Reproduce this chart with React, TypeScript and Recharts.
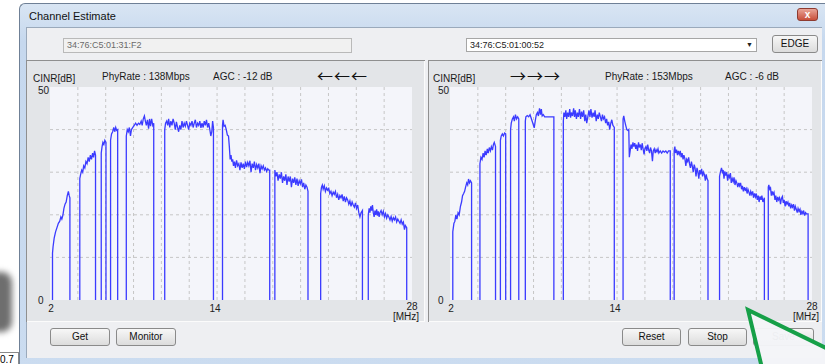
import { LineChart, Line, XAxis, YAxis, CartesianGrid } from "recharts";

// axis / grid values
const freqTicks = [2, 14, 28];
const gridFreqs = [4, 6, 8, 10, 12, 14, 16, 18, 20, 22, 24, 26];
const cinrTicks = [0, 50];
const gridCinr = [10, 20, 30, 40];

// header texts
const leftMac = "34:76:C5:01:31:F2";
const rightMac = "34:76:C5:01:00:52";
const leftPhy = "PhyRate : 138Mbps";
const rightPhy = "PhyRate : 153Mbps";
const leftAgc = "AGC : -12 dB";
const rightAgc = "AGC : -6 dB";

// CINR [dB] per carrier band, [MHz, dB]; bands are separated by notches (drop to 0)
const leftCinr: [number, number][][] = [
  [[2.18, 11], [2.22, 12.5], [2.3, 14.5], [2.4, 16], [2.5, 17], [2.6, 18], [2.7, 18.5], [2.78, 19.5], [2.85, 19], [2.93, 20], [3.0, 21.5], [3.08, 22.5], [3.16, 23], [3.24, 24.5], [3.32, 25.5], [3.38, 24.5], [3.43, 24]],
  [[4.14, 28.5], [4.2, 29.5], [4.28, 30.5], [4.35, 30], [4.42, 31.5], [4.5, 31], [4.58, 32.5], [4.66, 32], [4.74, 33.5], [4.82, 32.5], [4.9, 34], [4.98, 33], [5.06, 34.5], [5.13, 33.5], [5.2, 35], [5.27, 34]],
  [[5.68, 34.5], [5.74, 36], [5.8, 37], [5.87, 36.5], [5.94, 37.5], [6.02, 37]],
  [[6.35, 37.5], [6.42, 39], [6.5, 39.5], [6.58, 40.5], [6.65, 39.5], [6.72, 40.5], [6.79, 39.8], [6.86, 40]],
  [[7.48, 38.5], [7.55, 40], [7.62, 39.5], [7.7, 40.5], [7.78, 38.5], [7.85, 40], [7.95, 40.5], [8.05, 41], [8.15, 41.5], [8.25, 41], [8.35, 41.5], [8.45, 41.2], [8.55, 42], [8.62, 41], [8.7, 42.5], [8.78, 43.2], [8.85, 42], [8.92, 41], [9.0, 42.3], [9.08, 40.2], [9.15, 42.5], [9.22, 40.8], [9.3, 42.5], [9.38, 41], [9.45, 41.5]],
  [[10.24, 40], [10.3, 41.5], [10.38, 42], [10.45, 41], [10.52, 42.5], [10.6, 40.5], [10.68, 42], [10.76, 41], [10.84, 42.5], [10.92, 41.5], [11.0, 40], [11.08, 41.8], [11.16, 40.5], [11.24, 39.5], [11.32, 41], [11.4, 40], [11.48, 42], [11.56, 40.5], [11.64, 41.5], [11.72, 40.8], [11.8, 42], [11.88, 41], [11.96, 40], [12.04, 41.5], [12.12, 41], [12.2, 42], [12.28, 40.5], [12.36, 41.5], [12.44, 42.3], [12.52, 40.5], [12.6, 41.5], [12.68, 41], [12.76, 42], [12.84, 40.4], [12.92, 41.5], [13.0, 40.5], [13.08, 42], [13.16, 41], [13.24, 42.3], [13.32, 40.5], [13.4, 41.5], [13.48, 40], [13.55, 38.5], [13.62, 39.5], [13.68, 42], [13.74, 40.5]],
  [[14.39, 41], [14.43, 42.3], [14.5, 40.8], [14.58, 41], [14.66, 40], [14.74, 38.7], [14.82, 38.5], [14.88, 36], [14.94, 33], [15.0, 34], [15.06, 32.5], [15.12, 33], [15.18, 31.5], [15.25, 32.5], [15.32, 31], [15.4, 32.8], [15.48, 31.5], [15.56, 32], [15.64, 30.5], [15.72, 32.3], [15.8, 31], [15.88, 32], [15.96, 30.8], [16.04, 32.5], [16.12, 31.2], [16.2, 32.3], [16.28, 31.5], [16.36, 32.7], [16.44, 30], [16.52, 32], [16.6, 31], [16.68, 32.5], [16.76, 30.5], [16.84, 31.8], [16.92, 31], [17.0, 32], [17.08, 29.8], [17.16, 31.5], [17.24, 30.8], [17.32, 31.5], [17.4, 30.5], [17.48, 31], [17.56, 30.2], [17.64, 30.8], [17.72, 30.5], [17.78, 30.5]],
  [[18.15, 30.5], [18.22, 29], [18.3, 30], [18.38, 28], [18.46, 29.5], [18.54, 28.5], [18.62, 30], [18.7, 27.5], [18.78, 29], [18.86, 28], [18.94, 29.5], [19.02, 27], [19.1, 29], [19.18, 27.8], [19.26, 29], [19.34, 26.5], [19.42, 28.5], [19.5, 27.5], [19.58, 28.8], [19.66, 27], [19.74, 28.5], [19.82, 26.8], [19.9, 28], [19.98, 27.3], [20.06, 28.3], [20.14, 26.5], [20.22, 27.5], [20.3, 26], [20.38, 27], [20.46, 26.5], [20.53, 25.5]],
  [[21.44, 25], [21.5, 26.5], [21.56, 27], [21.62, 26], [21.7, 26.8], [21.78, 25.5], [21.86, 26.3], [21.94, 25.8], [22.02, 26.2], [22.1, 25], [22.18, 25.5], [22.26, 24.5], [22.34, 25.3], [22.42, 24.8], [22.5, 25.5], [22.58, 24], [22.66, 24.8], [22.74, 23.5], [22.82, 24.5], [22.9, 24], [22.98, 24.8], [23.06, 23.2], [23.14, 24.3], [23.22, 23], [23.3, 24], [23.38, 23.5], [23.46, 22.5], [23.54, 23.3], [23.62, 22], [23.7, 23], [23.78, 22.3], [23.86, 21.8], [23.94, 22.8], [24.02, 21.5], [24.1, 22.3], [24.18, 20.5], [24.26, 19.5], [24.34, 20.5], [24.44, 21]],
  [[24.86, 20], [24.92, 21.5], [24.98, 20.5], [25.04, 22], [25.1, 21], [25.16, 22.3], [25.22, 20.5], [25.28, 19.5], [25.34, 21], [25.4, 20], [25.46, 21.3], [25.52, 19.8], [25.58, 20.8], [25.64, 19.5], [25.7, 20.5], [25.78, 21], [25.86, 20], [25.94, 20.8], [26.02, 19.5], [26.1, 20.3], [26.18, 19.2], [26.26, 20], [26.34, 19.5], [26.42, 18.8], [26.5, 19.6], [26.58, 18.5], [26.66, 19.3], [26.74, 18.8], [26.82, 19.5], [26.9, 18.3], [26.98, 19], [27.06, 18.5], [27.14, 18], [27.22, 18.8], [27.3, 17.8], [27.38, 18.3], [27.46, 16.5], [27.52, 17.5], [27.62, 17]],
];

const rightCinr: [number, number][][] = [
  [[2.2, 16], [2.28, 18], [2.35, 18.5], [2.42, 20], [2.5, 19], [2.58, 20.5], [2.66, 20], [2.75, 22], [2.83, 23], [2.9, 24.5], [2.98, 25], [3.05, 25.5], [3.12, 26.5], [3.2, 27.5], [3.27, 27], [3.33, 28.4], [3.4, 27.5], [3.47, 28], [3.55, 27.5]],
  [[4.15, 32], [4.22, 33.5], [4.3, 33], [4.38, 34.5], [4.45, 33.5], [4.52, 35], [4.6, 34], [4.68, 35.5], [4.75, 34.5], [4.82, 35.8], [4.9, 35], [4.97, 36], [5.05, 35.2], [5.12, 36.5], [5.18, 37], [5.27, 36]],
  [[5.62, 37.5], [5.68, 38.5], [5.76, 39], [5.84, 38.5], [5.92, 39.2], [6.0, 39]],
  [[6.35, 40], [6.4, 41.5], [6.48, 42.5], [6.56, 43], [6.62, 42], [6.7, 43.5], [6.78, 42.5], [6.86, 43], [6.94, 42.5]],
  [[7.41, 42], [7.45, 43], [7.55, 43.3], [7.65, 43], [7.75, 43.5], [7.85, 42.5], [7.95, 41.5], [8.05, 40.4], [8.12, 42], [8.2, 43.5], [8.28, 44], [8.35, 43.2], [8.43, 45], [8.5, 43.5], [8.56, 44.8], [8.62, 43.2], [8.7, 43.5], [8.8, 43], [9.0, 43], [9.2, 43], [9.46, 43]],
  [[10.14, 42], [10.18, 44], [10.25, 43], [10.32, 44.5], [10.38, 42.5], [10.45, 44], [10.52, 43], [10.6, 44.8], [10.66, 42.8], [10.72, 44], [10.8, 43.2], [10.88, 45], [10.94, 43], [11.0, 44.5], [11.08, 42.5], [11.15, 44], [11.22, 43], [11.3, 44.8], [11.38, 42.5], [11.45, 44.2], [11.52, 43], [11.6, 44.5], [11.68, 42], [11.75, 43.5], [11.82, 41.5], [11.9, 43], [11.98, 44.5], [12.05, 43], [12.12, 44.8], [12.2, 42.8], [12.28, 44], [12.35, 43], [12.42, 44.5], [12.5, 42], [12.58, 43.5], [12.65, 42.5], [12.72, 44], [12.8, 43], [12.88, 42], [12.95, 43.5], [13.02, 42.5], [13.1, 43], [13.18, 41.5], [13.25, 42.5], [13.32, 41], [13.4, 41.8], [13.47, 40], [13.55, 41.5], [13.62, 42.3], [13.7, 41], [13.8, 40.5]],
  [[14.43, 42.5], [14.48, 43.2], [14.55, 42], [14.62, 41], [14.7, 40], [14.78, 39.8], [14.84, 40], [14.88, 33.5], [14.94, 35], [15.0, 36.5], [15.07, 35.5], [15.14, 37], [15.2, 36], [15.27, 36.8], [15.34, 35.5], [15.4, 36.5], [15.47, 35], [15.54, 37], [15.6, 35.8], [15.67, 36.5], [15.74, 35.2], [15.8, 36.8], [15.87, 35.5], [15.94, 34.2], [16.0, 35.5], [16.07, 36], [16.14, 35], [16.2, 36.5], [16.27, 35.2], [16.34, 34.5], [16.4, 35.8], [16.47, 35], [16.54, 32.6], [16.6, 35], [16.67, 35.5], [16.74, 34.5], [16.8, 35.3], [16.87, 34.8], [16.94, 35.5], [17.0, 34.5], [17.1, 35], [17.2, 34.5], [17.3, 35], [17.4, 34.7], [17.5, 35], [17.6, 34.5], [17.7, 35], [17.82, 35]],
  [[18.1, 35], [18.15, 36], [18.2, 34.5], [18.27, 35.3], [18.34, 34], [18.4, 35], [18.47, 34.2], [18.54, 35], [18.6, 33.5], [18.67, 34.5], [18.74, 33], [18.8, 34], [18.87, 33.2], [18.94, 31.5], [19.0, 33], [19.07, 32.5], [19.14, 33.5], [19.2, 32], [19.27, 31], [19.34, 32.5], [19.4, 31.5], [19.47, 30], [19.54, 31.8], [19.6, 31], [19.67, 29], [19.74, 31], [19.8, 30.2], [19.87, 28.5], [19.94, 30.5], [20.0, 29.5], [20.07, 30.8], [20.14, 29], [20.2, 30], [20.27, 29.5], [20.34, 28], [20.4, 29.5], [20.46, 28.5], [20.53, 28]],
  [[21.36, 29], [21.42, 30], [21.5, 31], [21.56, 30], [21.62, 30.5], [21.68, 28.5], [21.74, 30.2], [21.8, 29.2], [21.87, 30], [21.94, 28], [22.0, 29.5], [22.07, 28.8], [22.14, 29.8], [22.2, 27.5], [22.27, 28.5], [22.34, 27.8], [22.4, 28.8], [22.47, 27], [22.54, 28], [22.6, 27.5], [22.67, 26.5], [22.74, 27.5], [22.8, 26.8], [22.87, 27.5], [22.94, 26], [23.0, 26.8], [23.07, 25.5], [23.14, 26.5], [23.2, 25.8], [23.27, 26.2], [23.34, 25], [23.4, 26], [23.47, 25.3], [23.54, 24.5], [23.6, 25.5], [23.67, 24.8], [23.74, 25.5], [23.8, 24], [23.87, 25], [23.94, 24.2], [24.0, 25], [24.07, 23.5], [24.14, 24.5], [24.2, 23], [24.27, 24.3], [24.34, 23.5], [24.4, 24.5], [24.47, 23], [24.58, 24]],
  [[24.86, 26.5], [24.9, 27], [24.96, 26], [25.02, 26.3], [25.08, 24.5], [25.14, 25.5], [25.2, 24.8], [25.27, 25.3], [25.34, 23.5], [25.4, 24.5], [25.47, 23], [25.54, 24.2], [25.6, 23.5], [25.67, 24], [25.74, 22.5], [25.8, 23.8], [25.87, 24.3], [25.94, 22.8], [26.0, 23.5], [26.07, 22], [26.14, 23.2], [26.2, 22.5], [26.27, 23], [26.34, 22], [26.4, 22.8], [26.47, 21.5], [26.54, 22.3], [26.6, 21.8], [26.67, 22.5], [26.74, 21], [26.8, 22], [26.87, 21.3], [26.94, 20.5], [27.0, 21.5], [27.07, 20.8], [27.14, 21.3], [27.2, 20], [27.27, 20.8], [27.34, 20.3], [27.4, 21], [27.47, 19.8], [27.54, 20.5], [27.6, 20.2], [27.72, 20.2]],
];

// each band rises from 0 and drops back to 0; a null breaks the line across the notch
function toSeries(bands: [number, number][][]) {
  const out: { f: number; v: number | null }[] = [];
  bands.forEach((band) => {
    const first = band[0][0];
    const last = band[band.length - 1][0];
    out.push({ f: first, v: 0 });
    band.forEach(([f, v]) => out.push({ f, v }));
    out.push({ f: last, v: 0 });
    out.push({ f: last, v: null });
  });
  return out;
}

const UI_FONT = "'Liberation Sans', Arial, sans-serif";

const yTick = (p: any) => {
  const v = p.payload.value;
  return (
    <text x={p.x - 12} y={p.y + (v === 50 ? 3 : 0)} textAnchor="start" dominantBaseline="central" fontSize={10} fontFamily={UI_FONT} fill="#222">
      {v}
    </text>
  );
};

const xTick = (p: any) => {
  const v = p.payload.value;
  const dx = v === 14 ? -2 : v === 2 ? 1 : 0;
  return (
    <text x={p.x + dx} y={p.y + (v === 28 ? 6 : 8)} textAnchor="middle" dominantBaseline="central" fontSize={10} fontFamily={UI_FONT} fill="#222">
      {v}
    </text>
  );
};

function CinrChart({ bands, width, axisW }: { bands: [number, number][][]; width: number; axisW: number }) {
  const data = toSeries(bands);
  return (
    <LineChart width={width} height={262} data={data} margin={{ top: 27, right: width - axisW - 362, left: 0, bottom: 0 }}>
      <CartesianGrid fill="#f4f5fa" stroke="#c6c6c6" strokeDasharray="3 3" horizontalValues={gridCinr} verticalValues={gridFreqs} />
      <XAxis type="number" dataKey="f" domain={[2, 28]} ticks={freqTicks} interval={0} height={22} tickSize={0} tickMargin={0} axisLine={false} tickLine={false} tick={xTick} />
      <YAxis type="number" domain={[0, 50]} ticks={cinrTicks} interval={0} width={axisW} tickSize={0} tickMargin={0} axisLine={false} tickLine={false} tick={yTick} />
      <Line dataKey="v" type="linear" stroke="#3b3bff" strokeWidth={1.3} dot={false} connectNulls={false} isAnimationActive={false} />
    </LineChart>
  );
}

const abs = (left: number, top: number, extra: any = {}) => ({ position: "absolute" as const, left, top, ...extra });

const txt = (left: number, top: number, size = 10) => abs(left, top, { fontSize: size, lineHeight: `${size}px`, whiteSpace: "nowrap", color: "#1a1a1a" });

function Button({ x, y, w, label }: { x: number; y: number; w: number; label: string }) {
  return (
    <div
      style={abs(x, y, {
        width: w,
        height: 18,
        boxSizing: "border-box",
        border: "1px solid #8a8a8a",
        borderRadius: 3,
        background: "linear-gradient(#f7f7f7, #dcdcdc)",
        fontSize: 10,
        lineHeight: "16px",
        textAlign: "center",
        color: "#111",
      })}
    >
      {label}
    </div>
  );
}

function Panel({ x, w, bands, axisW, items, arrows, arrowX }: any) {
  return (
    <div style={abs(x, 60, { width: w, height: 262, background: "#e3e5e8", boxShadow: "inset 1px 1px 0 #8f8f8f, inset -1px -1px 0 #fbfbfb" })}>
      <div style={abs(0, 0)}>
        <CinrChart bands={bands} width={w} axisW={axisW} />
      </div>
      {items.map((it: any) => (
        <div key={it.t} style={txt(it.x, it.y)}>
          {it.t}
        </div>
      ))}
      <div style={abs(arrowX, 7, { fontFamily: "'Noto Sans CJK JP', 'DejaVu Sans', sans-serif", fontSize: 16, lineHeight: "16px", letterSpacing: 1, color: "#111" })}>{arrows}</div>
      <div style={txt(w === 399 ? 367 : 365, 252)}>[MHz]</div>
    </div>
  );
}

export default function App() {
  return (
    <div style={{ position: "absolute", left: 0, top: 0, width: 825, height: 364, overflow: "hidden", background: "#ffffff", fontFamily: UI_FONT }}>
      {/* background app remnants */}
      <div style={abs(-12, 272, { width: 24, height: 60, borderRadius: 10, background: "#6e6e6e", filter: "blur(3px)" })} />
      <div style={abs(-2, 352, { width: 18, height: 14, borderTop: "1px solid #8a8a8a", borderRight: "1px solid #8a8a8a", fontSize: 10, lineHeight: "14px", paddingLeft: 2 })}>0.7</div>

      {/* window frame */}
      <div style={abs(19, 3, { width: 830, height: 380, background: "linear-gradient(#d9e5f3, #c6d8ee 10%, #cbdcf0)", borderLeft: "1px solid #6f8096", borderTop: "1px solid #6f8096", borderTopLeftRadius: 6 })} />
      <div style={abs(29, 10, { fontSize: 11, lineHeight: "12px", color: "#111" })}>Channel Estimate</div>
      <div style={abs(797, 8, { width: 21, height: 13, boxSizing: "border-box", border: "1px solid #8e3b30", borderRadius: 3, background: "linear-gradient(#e9a497, #c84f3b)", color: "#fff", fontSize: 10, lineHeight: "11px", textAlign: "center", fontWeight: 700 })}>x</div>

      {/* client area */}
      <div style={abs(26, 27, { width: 796, height: 331, background: "#eeeff2", boxShadow: "inset 1px 1px 0 #9aa9bb" })} />

      <div style={abs(63, 38, { width: 289, height: 15, boxSizing: "border-box", border: "1px solid #b9b9b9", background: "#f1f1f1", color: "#6a6a6a", fontSize: 9, lineHeight: "13px", paddingLeft: 3 })}>{leftMac}</div>
      <div style={abs(466, 38, { width: 291, height: 14, boxSizing: "border-box", border: "1px solid #a6a6a6", background: "#ffffff", color: "#222", fontSize: 9, lineHeight: "12px", paddingLeft: 3 })}>{rightMac}</div>
      <div style={abs(746, 41, { fontSize: 7, lineHeight: "8px", color: "#222" })}>▼</div>
      <Button x={772} y={35} w={46} label="EDGE" />

      <Panel
        x={26}
        w={399}
        bands={leftCinr}
        axisW={24}
        arrows="←←←"
        arrowX={291}
        items={[
          { t: "CINR[dB]", x: 7, y: 14 },
          { t: leftPhy, x: 76, y: 12 },
          { t: leftAgc, x: 187, y: 12 },
        ]}
      />
      <Panel
        x={428}
        w={394}
        bands={rightCinr}
        axisW={22}
        arrows="→→→"
        arrowX={82}
        items={[
          { t: "CINR[dB]", x: 5, y: 14 },
          { t: rightPhy, x: 177, y: 12 },
          { t: rightAgc, x: 297, y: 12 },
        ]}
      />

      <Button x={50} y={328} w={60} label="Get" />
      <Button x={116} y={328} w={60} label="Monitor" />
      <Button x={622} y={328} w={59} label="Reset" />
      <Button x={688} y={328} w={59} label="Stop" />
      <Button x={753} y={328} w={61} label="Save" />

      {/* green callout arrow */}
      <svg width={825} height={364} style={abs(0, 0, { pointerEvents: "none" })}>
        <polygon points="748,310 828,349 828,368 761,368" fill="#f4f5f8" fillOpacity={0.97} />
        <polyline points="762,368 748,310 828,349" fill="none" stroke="#16a048" strokeWidth={4} strokeLinejoin="miter" />
      </svg>
    </div>
  );
}
